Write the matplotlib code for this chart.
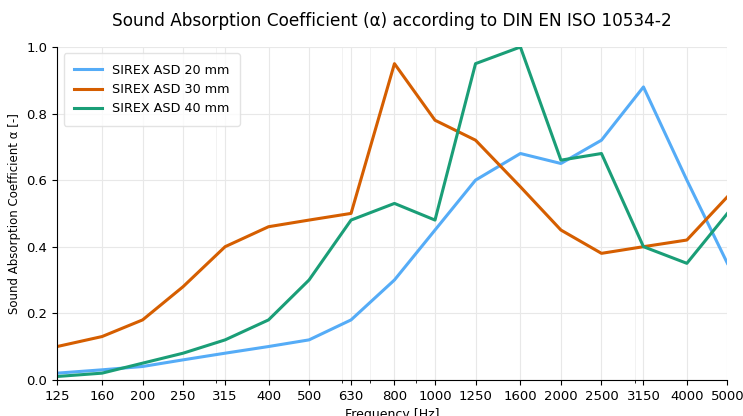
import matplotlib
matplotlib.use("Agg")
import matplotlib.pyplot as plt
from matplotlib.ticker import FixedLocator, FixedFormatter, LogLocator, NullFormatter

freqs = [125, 160, 200, 250, 315, 400, 500, 630, 800, 1000, 1250, 1600, 2000, 2500, 3150, 4000, 5000]
asd20 = [0.02, 0.03, 0.04, 0.06, 0.08, 0.10, 0.12, 0.18, 0.30, 0.45, 0.60, 0.68, 0.65, 0.72, 0.88, 0.60, 0.35]
asd30 = [0.10, 0.13, 0.18, 0.28, 0.40, 0.46, 0.48, 0.50, 0.95, 0.78, 0.72, 0.58, 0.45, 0.38, 0.40, 0.42, 0.55]
asd40 = [0.01, 0.02, 0.05, 0.08, 0.12, 0.18, 0.30, 0.48, 0.53, 0.48, 0.95, 1.00, 0.66, 0.68, 0.40, 0.35, 0.50]
labels = ["SIREX ASD 20 mm", "SIREX ASD 30 mm", "SIREX ASD 40 mm"]
colors = ["#55ACF7", "#D55E00", "#1A9E77"]

fig = plt.figure(figsize=(7.43, 4.16), dpi=100)
ax = fig.add_axes([0.077, 0.087, 0.902, 0.80])

for y, lab, c in zip([asd20, asd30, asd40], labels, colors):
    ax.plot(freqs, y, color=c, lw=2.2, label=lab)

ax.set_xscale("log")
ax.set_xlim(125, 5000)
ax.set_ylim(0, 1.0)
ax.xaxis.set_major_locator(FixedLocator(freqs))
ax.xaxis.set_major_formatter(FixedFormatter([str(f) for f in freqs]))
ax.xaxis.set_minor_locator(LogLocator(base=10, subs=range(2, 10)))
ax.xaxis.set_minor_formatter(NullFormatter())
ax.set_yticks([0, 0.2, 0.4, 0.6, 0.8, 1.0])
ax.set_yticklabels(["0.0", "0.2", "0.4", "0.6", "0.8", "1.0"])
ax.tick_params(labelsize=9.5)
ax.grid(True, which="major", color="#e8e8e8", lw=0.8)
ax.grid(True, which="minor", axis="x", color="#f0f0f0", lw=0.6)
ax.set_axisbelow(True)
for s in ["top", "right"]:
    ax.spines[s].set_visible(False)

ax.set_xlabel("Frequency [Hz]", fontsize=9)
ax.set_ylabel("Sound Absorption Coefficient α [-]", fontsize=8.5, labelpad=4)
ax.set_title("Sound Absorption Coefficient (α) according to DIN EN ISO 10534-2", fontsize=12.2, pad=15)
ax.legend(loc="upper left", fontsize=9.2, frameon=True, edgecolor="#dddddd", borderpad=0.8, handlelength=2.2)

fig.savefig("out.png", dpi=100)
